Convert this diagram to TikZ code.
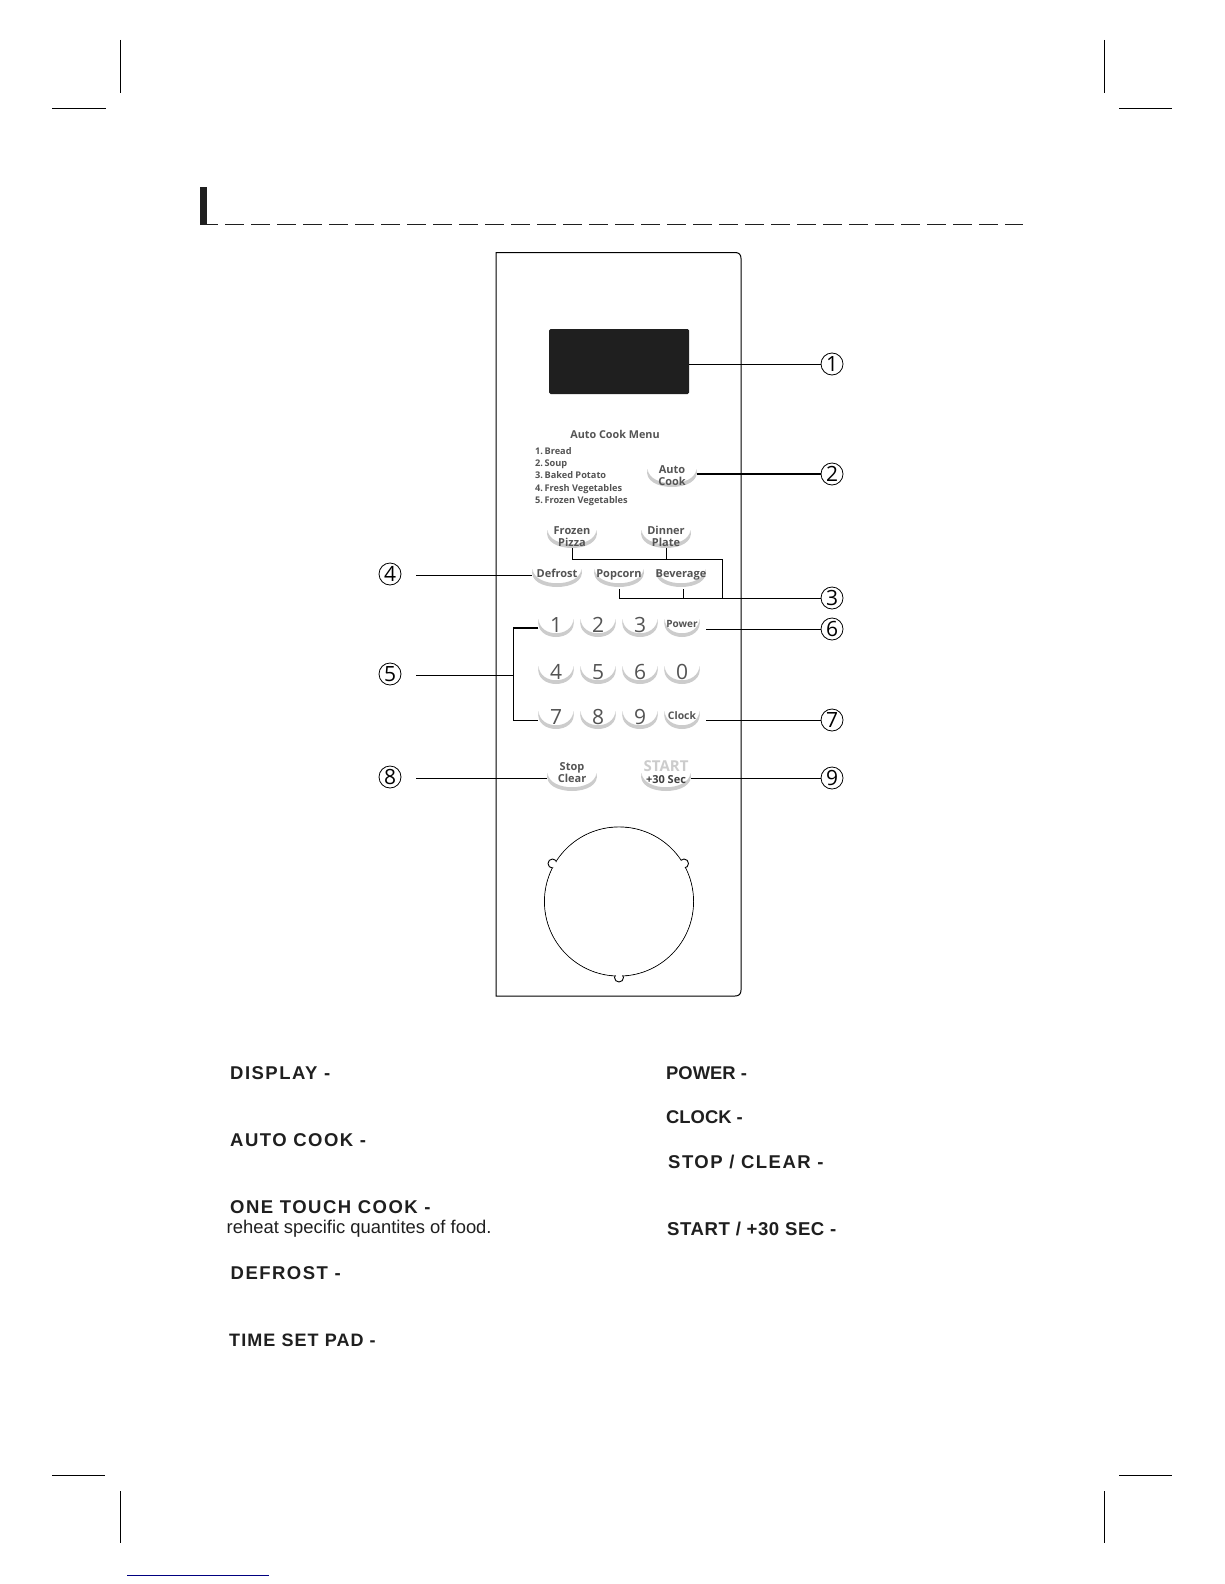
\documentclass[tikz,border=0pt]{standalone}
\usepackage{fontspec}
\setmainfont{Liberation Sans}
\newfontfamily\panelfont{Open Sans}
\newfontfamily\trackfont[LetterSpace=8]{Liberation Sans Bold}
\newfontfamily\padfont[LetterSpace=6]{Liberation Sans Bold}
\newfontfamily\startfont[LetterSpace=3]{Liberation Sans Bold}
\newfontfamily\tightfont{Liberation Sans Bold}
\usetikzlibrary{shapes.geometric}
\definecolor{keyshade}{gray}{0.8}
\definecolor{keyink}{gray}{0.33}
\tikzset{
  callout/.style={circle,draw,minimum size=22pt,inner sep=0pt,line width=0.8pt,font=\panelfont\fontsize{21}{21}\selectfont},
  keycap/.style={ellipse,minimum height=22pt,inner sep=0pt},
  keylabel/.style={text=keyink,align=center,inner sep=0pt,font=\panelfont\bfseries\fontsize{11}{12}\selectfont},
  digitlabel/.style={text=keyink,inner sep=0pt,font=\panelfont\fontsize{21}{21}\selectfont},
  menulabel/.style={anchor=base west,text=keyink,inner sep=0pt,font=\panelfont\bfseries\fontsize{9.2}{10}\selectfont},
  headlabel/.style={anchor=base west,inner sep=0pt,text=black!88,font=\trackfont\fontsize{18.5}{18}\selectfont},
  tightlabel/.style={anchor=base west,inner sep=0pt,text=black!88,font=\tightfont\fontsize{18.4}{18}\selectfont},
  mark line/.style={line width=0.9pt},
  lead/.style={line width=1pt}
}
\newcommand{\keyshape}[4]{%
  \fill[keyshade,shift={(#2,#3)},xscale=#4/48] (-24,-7) .. controls (-30,17) and (30,17) .. (24,-7) .. controls (22,12) and (-22,12) .. cycle;
  \node[keycap,minimum width=#4 pt] (#1) at (#2,#3) {};
}
\begin{document}
\begin{tikzpicture}[x=1pt,y=-1pt]
\useasboundingbox (0,0) rectangle (1224,1584);
\fill[white] (0,0) rectangle (1224,1584);

\draw[mark line] (120,40) -- (120,93);
\draw[mark line] (52,108) -- (106,108);
\draw[mark line] (1104,40) -- (1104,93);
\draw[mark line] (1119,108) -- (1172,108);
\draw[mark line] (52,1475) -- (105,1475);
\draw[mark line] (120,1491) -- (120,1543);
\draw[mark line] (1104,1491) -- (1104,1543);
\draw[mark line] (1119,1475) -- (1172,1475);
\draw[line width=1pt,blue!50!black] (127,1575) -- (269,1575);

\fill[black!88] (200,187) rectangle (207,224.6);
\draw[line width=1.1pt,dash pattern=on 19pt off 7pt,dash phase=8pt,black!88] (207,224.4) -- (1023,224.4);

\draw[line width=1pt] (496,252) -- (496,996) -- (735,996) .. controls (739,996) and (741,994) .. (741,990) -- (741,258.5) .. controls (741,254.5) and (739,252.5) .. (735,252.5) -- (496,252.5);
\node[fill=black!88,rounded corners=1.5pt,minimum width=140pt,minimum height=65pt,inner sep=0pt] (display) at (619,361.5) {};

\node[keylabel,font=\panelfont\bfseries\fontsize{10.8}{12}\selectfont] (menutitle) at (615,434) {Auto Cook Menu};
\node[menulabel] (bread) at (535,454.5) {1.\hspace{1.5pt}Bread};
\node[menulabel] (soup) at (535,466.5) {2.\hspace{1.5pt}Soup};
\node[menulabel] (potato) at (535,478.5) {3.\hspace{1.5pt}Baked Potato};
\node[menulabel] (freshveg) at (535,491) {4.\hspace{1.5pt}Fresh Vegetables};
\node[menulabel] (frozenveg) at (535,503) {5.\hspace{1.5pt}Frozen Vegetables};

\keyshape{auto}{672}{476}{49}
\keyshape{pizza}{572}{537}{49}
\keyshape{dinner}{666}{537}{49}
\keyshape{defrost}{557}{576}{49}
\keyshape{popcorn}{619}{576}{49}
\keyshape{beverage}{681}{576}{49}
\keyshape{stop}{572}{780}{49}
\keyshape{start}{666}{780}{49}
\node[keylabel] (autotext) at (672,475.5) {Auto\\Cook};
\node[keylabel] (pizzatext) at (572,536.5) {Frozen\\Pizza};
\node[keylabel] (dinnertext) at (666,536.5) {Dinner\\Plate};
\node[keylabel] (defrosttext) at (557,573.5) {Defrost};
\node[keylabel] (popcorntext) at (619,575) {Popcorn};
\node[keylabel] (beveragetext) at (681,575) {Beverage};
\node[keylabel] (stoptext) at (572,772.5) {Stop\\Clear};
\node[keylabel,text=keyshade,font=\panelfont\bfseries\fontsize{15}{15}\selectfont] (starttext) at (666,766) {START};
\node[keylabel,text=black!75] (sectext) at (666,779.5) {+30 Sec};

\foreach \name/\col/\row/\lab in {one/556/626/1,two/598/626/2,three/640/626/3,four/556/673/4,five/598/673/5,six/640/673/6,zero/682/673/0,seven/556/718/7,eight/598/718/8,nine/640/718/9}{
  \keyshape{\name}{\col}{\row}{35}
  \node[digitlabel] (\name text) at (\col,\row-1) {\lab};
}
\keyshape{power}{682}{626}{35}
\keyshape{clock}{682}{718}{35}
\node[keylabel,font=\panelfont\bfseries\fontsize{10}{10}\selectfont] (powertext) at (682,623.5) {Power};
\node[keylabel,font=\panelfont\bfseries\fontsize{10.4}{10}\selectfont] (clocktext) at (682,715.5) {Clock};

\draw[line width=0.9pt] (619,901.5) circle (74.5);
\draw[line width=0.9pt,fill=white] (552.5,863.5) circle (4.5);
\draw[line width=0.9pt,fill=white] (684,863.5) circle (4.5);
\draw[line width=0.9pt,fill=white] (619,977.5) circle (4.5);
\fill[white] (619,901.5) circle (74);

\node[callout] (c1) at (832,364) {1};
\node[callout] (c2) at (832,474) {2};
\node[callout] (c3) at (832,598) {3};
\node[callout] (c4) at (390,574) {4};
\node[callout] (c5) at (390,674) {5};
\node[callout] (c6) at (832,629) {6};
\node[callout] (c7) at (832,720) {7};
\node[callout] (c8) at (390,777) {8};
\node[callout] (c9) at (832,778) {9};

\coordinate (s4) at (416,575);
\coordinate (s5) at (416,675);
\coordinate (s8) at (416,778);
\coordinate (braceup) at (513,628);
\coordinate (bracemid) at (513,675);
\coordinate (bracelow) at (513,720);
\coordinate (bus) at (722,559);
\coordinate (busdrop) at (722,598);
\coordinate (popstub) at (619,589);
\coordinate (bevstub) at (683,589);
\coordinate (powerend) at (706,629);
\coordinate (clockend) at (706,720);

\draw[lead] (display.east |- c1) -- (c1);
\draw[line width=1.8pt] (c2 -| auto.east) -- (c2);
\draw[lead] (popstub) -- (c3 -| popstub) -- (c3);
\draw[lead] (bevstub) -- (c3 -| bevstub);
\draw[lead] (pizza.south) -- (bus -| pizza.south) -- (bus) -- (busdrop);
\draw[lead] (dinner.south) -- (bus -| dinner.south);
\draw[lead] (s4) -- (s4 -| defrost.west);
\draw[lead] (s5) -- (bracemid);
\draw[line width=1.8pt] (braceup -| one.west) -- (braceup);
\draw[lead] (braceup) -- (bracelow) -- (bracelow -| seven.west);
\draw[lead] (powerend) -- (c6);
\draw[lead] (clockend) -- (c7);
\draw[lead] (s8) -- (s8 -| stop.west);
\draw[lead] (c9 -| start.east) -- (c9);

\node[headlabel] (display label) at (230,1079) {DISPLAY -};
\node[headlabel] (auto label) at (230,1146) {AUTO COOK -};
\node[headlabel] (touch label) at (230,1213) {ONE TOUCH COOK -};
\node[anchor=base west,inner sep=0pt,text=black!88,font=\fontsize{18.4}{18}\selectfont] (reheat) at (226.5,1233) {reheat specific quantites of food.};
\node[headlabel] (defrost label) at (230.5,1279) {DEFROST -};
\node[headlabel,font=\padfont\fontsize{18}{18}\selectfont] (time label) at (229,1346) {TIME SET PAD -};
\node[tightlabel] (power label) at (666,1079) {POWER -};
\node[tightlabel] (clock label) at (666,1123) {CLOCK -};
\node[headlabel] (stop label) at (668,1168) {STOP / CLEAR -};
\node[tightlabel,font=\startfont\fontsize{18.6}{18}\selectfont] (start label) at (667,1235) {START / +30 SEC -};
\end{tikzpicture}
\end{document}
